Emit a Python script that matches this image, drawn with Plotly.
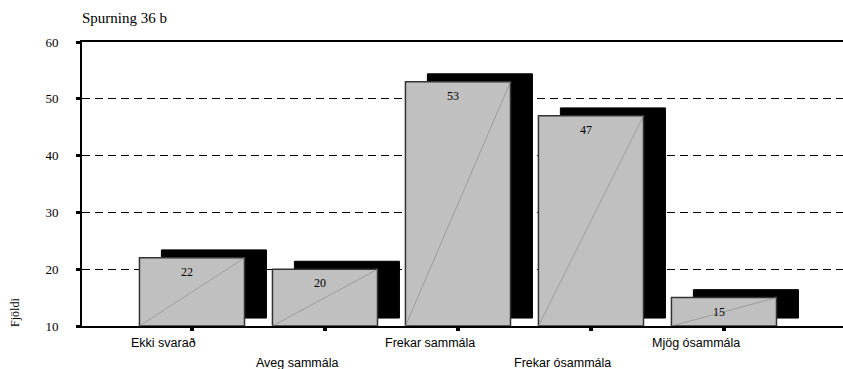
import plotly.graph_objects as go

# Gögn
flokkar = ["Ekki svarað", "Aveg sammála", "Frekar sammála", "Frekar ósammála", "Mjög ósammála"]
fjoldi = [22, 20, 53, 47, 15]
y_ticks = [10, 20, 30, 40, 50, 60]

GRUNNUR = 10          # botn y-ássins
BREIDD = 0.79         # breidd súlu
DYPT_X = 0.165        # "3D" skuggi til hægri
DYPT_Y = 1.4          # og upp

SERIF = "Liberation Serif, Times New Roman, serif"
SANS = "Liberation Sans, Arial, sans-serif"

pos = list(range(len(flokkar)))
haed = [v - GRUNNUR for v in fjoldi]

fig = go.Figure()

# Skuggi (bakhlið)
fig.add_trace(go.Bar(
    x=pos, y=haed, base=GRUNNUR + DYPT_Y,
    width=BREIDD, offset=-BREIDD / 2 + DYPT_X,
    marker=dict(color="black", line=dict(color="black", width=1)),
    hoverinfo="skip",
))

# Framhlið
fig.add_trace(go.Bar(
    x=pos, y=haed, base=GRUNNUR,
    width=BREIDD, offset=-BREIDD / 2,
    marker=dict(color="#c0c0c0", line=dict(color="#333333", width=1.5)),
    hoverinfo="skip",
))

# Skálínur í framhlið
xs, ys = [], []
for p, v in zip(pos, fjoldi):
    xs += [p - BREIDD / 2, p + BREIDD / 2, None]
    ys += [GRUNNUR, v, None]
fig.add_trace(go.Scatter(
    x=xs, y=ys, mode="lines",
    line=dict(color="#8c8c8c", width=0.7),
    hoverinfo="skip",
))

# Gildi á súlum
for p, v in zip(pos, fjoldi):
    fig.add_annotation(
        x=p, y=v, text=str(v), showarrow=False,
        xanchor="center", yanchor="top", xshift=-5, yshift=-5,
        font=dict(family=SERIF, size=12, color="black"),
    )

# Flokkaheiti á tveimur línum
for i, (p, nafn) in enumerate(zip(pos, flokkar)):
    fig.add_annotation(
        x=p, y=0, xref="x", yref="paper", text=nafn, showarrow=False,
        xanchor="center", yanchor="top", xshift=-28,
        yshift=-8 if i % 2 == 0 else -28,
        font=dict(family=SANS, size=12.5, color="black"),
    )

# Ásheiti
fig.add_annotation(
    x=0, xref="paper", xshift=-67, y=12.3, yref="y",
    text="Fjöldi", textangle=-90, showarrow=False,
    xanchor="center", yanchor="middle",
    font=dict(family=SERIF, size=12, color="black"),
)

fig.update_layout(
    width=843, height=369,
    margin=dict(l=82, r=0, t=42, b=43),
    paper_bgcolor="white", plot_bgcolor="white",
    barmode="overlay", showlegend=False,
    title=dict(
        text="Spurning 36 b", x=82 / 843, xanchor="left",
        y=1 - 18 / 369, yanchor="middle",
        font=dict(family=SERIF, size=15, color="black"),
    ),
    xaxis=dict(
        range=[-0.827, 4.895], tickvals=pos, showticklabels=False,
        ticks="outside", ticklen=3, tickwidth=4, tickcolor="black",
        showgrid=False, zeroline=False,
        showline=True, linecolor="black", linewidth=2, mirror=True,
    ),
    yaxis=dict(
        range=[10, 60], tickvals=y_ticks,
        ticks="outside", ticklen=4, tickwidth=3, tickcolor="black",
        ticklabelstandoff=15,
        tickfont=dict(family=SERIF, size=13, color="black"),
        showgrid=True, gridcolor="black", gridwidth=1, griddash="8px,5px",
        zeroline=False,
        showline=True, linecolor="black", linewidth=2,
    ),
)

fig.write_html(
    "out.html",
    config={"displayModeBar": False},
    post_script="document.body.style.margin='0';",
)
